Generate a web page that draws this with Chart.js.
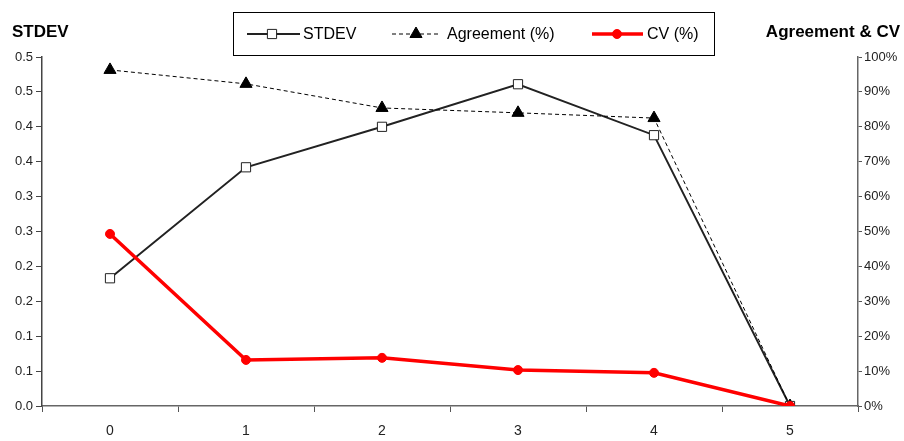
<!DOCTYPE html>
<html>
<head>
<meta charset="utf-8">
<script src="https://cdn.jsdelivr.net/npm/chart.js@4/dist/chart.umd.min.js"></script>
<style>
html,body{margin:0;padding:0;background:#fff;}
#wrap{width:904px;height:441px;position:relative;}
</style>
</head>
<body>
<div id="wrap"><canvas id="c"></canvas></div>
<script>
const categories = ['0','1','2','3','4','5'];
const stdevValues = [0.183, 0.342, 0.400, 0.461, 0.388, 0.0];
const agreementValues = [96.3, 92.3, 85.4, 84.0, 82.5, 0.0];
const cvValues = [49.3, 13.2, 13.8, 10.3, 9.5, 0.0];
const leftTickLabels = ['0.0','0.1','0.1','0.2','0.2','0.3','0.3','0.4','0.4','0.5','0.5'];
const rightTickLabels = ['0%','10%','20%','30%','40%','50%','60%','70%','80%','90%','100%'];
const seriesNames = ['STDEV','Agreement (%)','CV (%)'];
const leftTitle = 'STDEV';
const rightTitle = 'Agreement & CV';

const FONT = "'Liberation Sans', Arial, sans-serif";

const legendAndTitles = {
  id: 'legendAndTitles',
  afterDraw(chart) {
    const ctx = chart.ctx;
    ctx.save();
    ctx.fillStyle = '#000';
    ctx.font = 'bold 17px ' + FONT;
    ctx.textBaseline = 'alphabetic';
    ctx.textAlign = 'left';
    ctx.fillText(leftTitle, 12, 37);
    ctx.textAlign = 'right';
    ctx.fillText(rightTitle, 900, 37);
    ctx.strokeStyle = '#000';
    ctx.lineWidth = 1;
    ctx.strokeRect(233.5, 12.5, 481, 43);
    const items = [
      {x0: 247, x1: 300, mx: 272, tx: 303},
      {x0: 392, x1: 438, mx: 416, tx: 447},
      {x0: 592, x1: 643, mx: 617, tx: 647}
    ];
    const ly = 34;
    chart.data.datasets.forEach((ds, i) => {
      const it = items[i];
      ctx.save();
      ctx.strokeStyle = ds.borderColor;
      ctx.lineWidth = ds.borderWidth;
      ctx.setLineDash(ds.borderDash || []);
      ctx.beginPath();
      ctx.moveTo(it.x0, ly);
      ctx.lineTo(it.x1, ly);
      ctx.stroke();
      ctx.restore();
      ctx.save();
      ctx.fillStyle = ds.pointBackgroundColor;
      ctx.strokeStyle = ds.pointBorderColor;
      ctx.lineWidth = 1;
      Chart.helpers.drawPoint(ctx, {pointStyle: ds.pointStyle, radius: ds.pointRadius, borderWidth: 1, rotation: 0}, it.mx, ly);
      ctx.restore();
      ctx.fillStyle = '#000';
      ctx.font = '16px ' + FONT;
      ctx.textAlign = 'left';
      ctx.textBaseline = 'middle';
      ctx.fillText(ds.label, it.tx, ly + 1);
    });
    ctx.restore();
  }
};

new Chart(document.getElementById('c'), {
  type: 'line',
  data: {
    labels: categories,
    datasets: [
      {
        label: seriesNames[0],
        data: stdevValues,
        yAxisID: 'yL',
        borderColor: '#222',
        borderWidth: 2,
        pointStyle: 'rect',
        pointRadius: 6.5,
        pointBackgroundColor: '#fff',
        pointBorderColor: '#222',
        pointBorderWidth: 1,
        tension: 0,
        order: 2
      },
      {
        label: seriesNames[1],
        data: agreementValues,
        yAxisID: 'yR',
        borderColor: '#000',
        borderWidth: 1,
        borderDash: [4, 3],
        pointStyle: 'triangle',
        pointRadius: 7,
        pointBackgroundColor: '#000',
        pointBorderColor: '#000',
        pointBorderWidth: 1,
        tension: 0,
        order: 1
      },
      {
        label: seriesNames[2],
        data: cvValues,
        yAxisID: 'yR',
        borderColor: '#ff0000',
        borderWidth: 3.5,
        pointStyle: 'circle',
        pointRadius: 4.5,
        pointBackgroundColor: '#ff0000',
        pointBorderColor: '#ff0000',
        pointBorderWidth: 1,
        tension: 0,
        order: 0
      }
    ]
  },
  options: {
    responsive: true,
    maintainAspectRatio: false,
    animation: false,
    layout: {padding: {top: 57, left: 0, right: 0, bottom: 0}},
    plugins: {legend: {display: false}, tooltip: {enabled: false}, title: {display: false}},
    scales: {
      x: {
        type: 'category',
        offset: true,
        grid: {offset: true, drawOnChartArea: false, drawTicks: true, tickLength: 6, color: '#555', tickColor: '#555'},
        border: {display: true, color: '#666', width: 1.5},
        ticks: {font: {family: FONT, size: 14}, color: '#222', padding: 11, maxRotation: 0},
        afterFit(s) { s.height = 35; }
      },
      yL: {
        type: 'linear',
        position: 'left',
        min: 0, max: 0.5,
        ticks: {
          stepSize: 0.05,
          font: {family: FONT, size: 13},
          color: '#222',
          padding: 3,
          callback: (v, i) => leftTickLabels[i]
        },
        grid: {drawOnChartArea: false, drawTicks: true, tickLength: 6, color: '#444', tickColor: '#444'},
        border: {display: true, color: '#444', width: 1.5},
        afterFit(s) { s.width = 42; }
      },
      yR: {
        type: 'linear',
        position: 'right',
        min: 0, max: 100,
        ticks: {
          stepSize: 10,
          font: {family: FONT, size: 13},
          color: '#222',
          padding: 2,
          callback: (v, i) => rightTickLabels[i]
        },
        grid: {drawOnChartArea: false, drawTicks: true, tickLength: 4, color: '#555', tickColor: '#555'},
        border: {display: true, color: '#666', width: 1.5},
        afterFit(s) { s.width = 46; }
      }
    }
  },
  plugins: [legendAndTitles]
});
</script>
</body>
</html>
